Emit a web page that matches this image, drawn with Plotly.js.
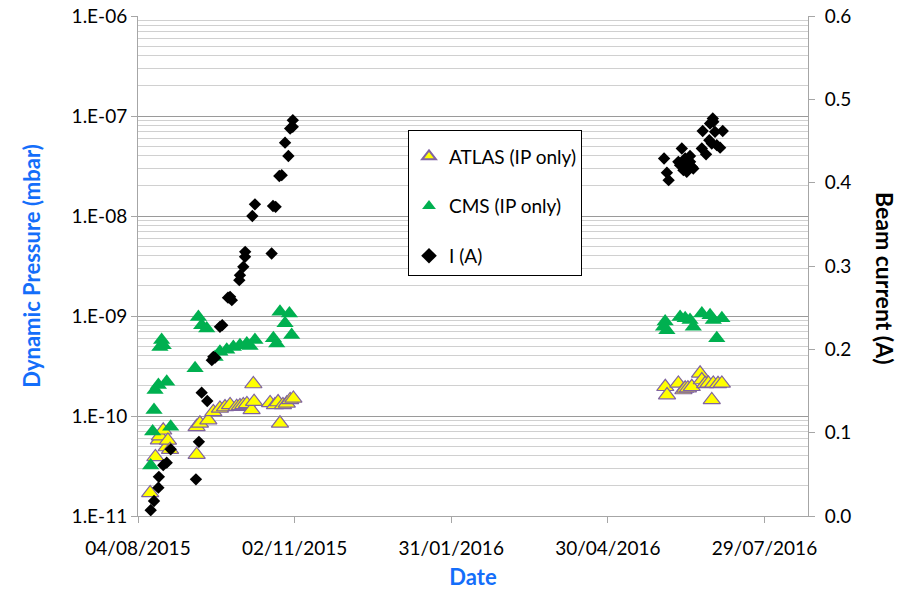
<!DOCTYPE html>
<html>
<head>
<meta charset="utf-8">
<script src="https://cdn.plot.ly/plotly-3.0.1.min.js"></script>
<style>
  html, body { margin: 0; padding: 0; background: #ffffff; }
  #chart { width: 902px; height: 590px; }
</style>
</head>
<body>
<div id="chart"></div>
<script>
// ---- Data ----
var atlasDates = [
  '2015-08-11 00:00', '2015-08-14 00:00', '2015-08-16 00:00', '2015-08-16 14:00', '2015-08-18 12:00',
  '2015-08-20 12:00', '2015-08-21 05:00', '2015-08-22 10:00',
  '2015-09-06 16:00', '2015-09-06 17:00', '2015-09-08 14:00', '2015-09-13 10:00', '2015-09-16 07:00',
  '2015-09-20 02:00', '2015-09-23 00:00', '2015-09-25 22:00', '2015-09-29 17:00', '2015-10-01 14:00',
  '2015-10-03 12:00', '2015-10-05 14:00', '2015-10-08 07:00', '2015-10-09 07:00', '2015-10-09 17:00',
  '2015-10-18 22:00', '2015-10-21 17:00', '2015-10-23 12:00', '2015-10-24 14:00', '2015-10-26 07:00',
  '2015-10-28 12:00', '2015-10-30 10:00', '2015-11-01 07:00',
  '2016-06-02 00:00', '2016-06-03 00:00', '2016-06-09 12:00', '2016-06-12 10:00', '2016-06-13 10:00',
  '2016-06-15 00:00', '2016-06-17 05:00', '2016-06-22 00:00', '2016-06-23 00:00', '2016-06-24 22:00',
  '2016-06-26 19:00', '2016-06-28 17:00', '2016-06-29 14:00', '2016-07-02 07:00', '2016-07-04 12:00'
];
var atlasP = [
  1.7e-11, 3.9e-11, 5.75e-11, 6.3e-11, 7.2e-11,
  4.9e-11, 5.7e-11, 4.6e-11,
  7.8e-11, 4.1e-11, 8.45e-11, 9.1e-11, 1.1e-10,
  1.19e-10, 1.23e-10, 1.29e-10, 1.24e-10, 1.26e-10,
  1.29e-10, 1.32e-10, 1.15e-10, 2.09e-10, 1.39e-10,
  1.35e-10, 1.29e-10, 1.38e-10, 8.45e-11, 1.29e-10,
  1.34e-10, 1.45e-10, 1.5e-10,
  1.96e-10, 1.62e-10, 2.12e-10, 1.82e-10, 1.89e-10,
  1.9e-10, 1.96e-10, 2.67e-10, 2.29e-10, 2.1e-10,
  2.12e-10, 1.45e-10, 2.12e-10, 2.1e-10, 2.12e-10
];

var cmsDates = [
  '2015-08-11 07:00', '2015-08-12 10:00', '2015-08-13 05:00', '2015-08-13 19:00', '2015-08-15 17:00',
  '2015-08-16 14:00', '2015-08-17 14:00', '2015-08-18 12:00', '2015-08-20 12:00', '2015-08-22 19:00',
  '2015-09-05 19:00', '2015-09-07 17:00', '2015-09-09 14:00', '2015-09-12 12:00', '2015-09-17 07:00',
  '2015-09-20 02:00', '2015-09-24 00:00', '2015-09-27 19:00', '2015-10-01 14:00', '2015-10-05 12:00',
  '2015-10-07 10:00', '2015-10-10 05:00', '2015-10-20 19:00', '2015-10-22 17:00', '2015-10-24 14:00',
  '2015-10-27 12:00', '2015-10-30 00:00', '2015-10-31 07:00',
  '2016-06-01 00:00', '2016-06-01 22:00', '2016-06-02 22:00', '2016-06-10 12:00', '2016-06-13 10:00',
  '2016-06-16 05:00', '2016-06-18 02:00', '2016-06-23 00:00', '2016-06-27 17:00', '2016-06-29 14:00',
  '2016-07-01 14:00', '2016-07-04 12:00'
];
var cmsP = [
  3.2e-11, 7.0e-11, 1.15e-10, 1.82e-10, 2.04e-10,
  4.9e-10, 5.75e-10, 5.1e-10, 2.2e-10, 7.8e-11,
  3.0e-10, 9.8e-10, 8.1e-10, 7.5e-10, 3.9e-10,
  4.4e-10, 4.6e-10, 4.9e-10, 5.1e-10, 5.3e-10,
  5.0e-10, 5.75e-10, 6.0e-10, 5.3e-10, 1.1e-9,
  8.45e-10, 1.06e-9, 6.45e-10,
  7.8e-10, 8.8e-10, 7.2e-10, 9.8e-10, 9.5e-10,
  9.1e-10, 7.8e-10, 1.06e-9, 1.02e-9, 9.1e-10,
  6.0e-10, 9.5e-10
];

var currentDates = [
  '2015-08-11 07:00', '2015-08-13 05:00', '2015-08-15 17:00', '2015-08-16 00:00', '2015-08-18 12:00',
  '2015-08-20 12:00', '2015-08-22 19:00', '2015-09-06 07:00', '2015-09-08 00:00', '2015-09-09 14:00',
  '2015-09-12 19:00', '2015-09-15 10:00', '2015-09-16 07:00', '2015-09-17 07:00', '2015-09-20 02:00',
  '2015-09-21 10:00', '2015-09-24 17:00', '2015-09-25 22:00', '2015-09-26 22:00', '2015-10-01 05:00',
  '2015-10-01 14:00', '2015-10-03 12:00', '2015-10-04 12:00', '2015-10-04 14:00', '2015-10-08 17:00',
  '2015-10-10 05:00', '2015-10-19 19:00', '2015-10-20 14:00', '2015-10-22 02:00', '2015-10-24 05:00',
  '2015-10-25 14:00', '2015-10-27 12:00', '2015-10-29 10:00', '2015-10-30 10:00', '2015-10-31 22:00',
  '2015-10-31 23:00',
  '2016-06-01 07:00', '2016-06-02 22:00', '2016-06-03 22:00', '2016-06-09 12:00', '2016-06-10 12:00',
  '2016-06-11 12:00', '2016-06-12 10:00', '2016-06-13 10:00', '2016-06-14 07:00', '2016-06-14 08:00',
  '2016-06-16 05:00', '2016-06-16 06:00', '2016-06-17 05:00', '2016-06-18 02:00', '2016-06-23 00:00',
  '2016-06-23 12:00', '2016-06-25 10:00', '2016-06-27 07:00', '2016-06-27 17:00', '2016-06-28 17:00',
  '2016-06-29 07:00', '2016-06-29 14:00', '2016-06-30 14:00', '2016-07-01 14:00', '2016-07-03 12:00',
  '2016-07-05 00:00'
];
var currentA = [
  0.007, 0.018, 0.034, 0.047, 0.061,
  0.064, 0.080, 0.044, 0.089, 0.148,
  0.138, 0.187, 0.191, 0.190, 0.227,
  0.229, 0.262, 0.263, 0.259, 0.283,
  0.289, 0.299, 0.311, 0.317, 0.360,
  0.374, 0.315, 0.372, 0.371, 0.408,
  0.409, 0.448, 0.432, 0.465, 0.467,
  0.475,
  0.429, 0.412, 0.403, 0.425, 0.421,
  0.441, 0.415, 0.429, 0.423, 0.413,
  0.432, 0.425, 0.419, 0.417, 0.441,
  0.462, 0.434, 0.451, 0.471, 0.447,
  0.477, 0.473, 0.461, 0.445, 0.442,
  0.462
];

var xTickVals = ['2015-08-04', '2015-11-02', '2016-01-31', '2016-04-30', '2016-07-29'];
var xTickText = ['04/08/2015', '02/11/2015', '31/01/2016', '30/04/2016', '29/07/2016'];
var yTickVals = [1e-11, 1e-10, 1e-9, 1e-8, 1e-7, 1e-6];
var yTickText = ['1.E-11', '1.E-10', '1.E-09', '1.E-08', '1.E-07', '1.E-06'];
var y2TickVals = [0, 0.1, 0.2, 0.3, 0.4, 0.5, 0.6];
var y2TickText = ['0.0', '0.1', '0.2', '0.3', '0.4', '0.5', '0.6'];

// minor log gridlines (2..9 within each decade)
var yMinorVals = [];
for (var dec = -11; dec < -6; dec++) {
  for (var k = 2; k <= 9; k++) yMinorVals.push(k * Math.pow(10, dec));
}

// ---- Styling ----
var FONT = 'Lato, "Open Sans", "Liberation Sans", sans-serif';
var BLUE = 'rgb(20,110,250)';
var AXIS_GRAY = '#a6a6a6';

var traces = [
  {
    x: atlasDates, y: atlasP, name: 'ATLAS (IP only)', type: 'scatter', mode: 'markers',
    legendgroup: 'a',
    marker: { symbol: 'triangle-up', size: 15, color: '#ffff00', line: { color: '#8064a2', width: 1.2 } },
    xaxis: 'x', yaxis: 'y'
  },
  {
    x: cmsDates, y: cmsP, name: 'CMS (IP only)', type: 'scatter', mode: 'markers',
    legendgroup: 'b',
    marker: { symbol: 'triangle-up', size: 15, color: '#00b050', line: { color: '#00b050', width: 0 } },
    xaxis: 'x', yaxis: 'y'
  },
  {
    x: currentDates, y: currentA, name: 'I (A)', type: 'scatter', mode: 'markers',
    legendgroup: 'c',
    marker: { symbol: 'diamond', size: 9.5, color: '#000000' },
    xaxis: 'x', yaxis: 'y2'
  }
];

var layout = {
  width: 902, height: 590,
  margin: { l: 138, r: 94, t: 16, b: 74, pad: 0 },
  paper_bgcolor: '#ffffff', plot_bgcolor: '#ffffff',
  font: { family: FONT, size: 19, color: '#000000' },
  showlegend: true,
  legend: {
    x: 0.403, y: 0.772, xanchor: 'left', yanchor: 'top',
    bgcolor: '#ffffff', bordercolor: '#000000', borderwidth: 1,
    font: { family: FONT, size: 19, color: '#000000' },
    title: { text: ' ', font: { size: 5 } },
    traceorder: 'grouped', tracegroupgap: 22, itemsizing: 'constant', itemwidth: 30
  },
  xaxis: {
    type: 'date',
    range: ['2015-08-04', '2016-08-23'],
    tickmode: 'array', tickvals: xTickVals, ticktext: xTickText,
    ticks: 'outside', ticklen: 6, tickcolor: AXIS_GRAY, tickwidth: 1,
    ticklabelstandoff: 9,
    showline: true, linecolor: AXIS_GRAY, linewidth: 1,
    showgrid: false, zeroline: false,
    tickfont: { family: FONT, size: 19, color: '#000000' },
    automargin: false,
    title: { text: 'Date', font: { family: FONT, size: 22, color: BLUE, weight: 'bold' }, standoff: 24 }
  },
  yaxis: {
    type: 'log',
    range: [-11, -6],
    tickmode: 'array', tickvals: yTickVals, ticktext: yTickText,
    ticks: 'outside', ticklen: 6, tickcolor: AXIS_GRAY, tickwidth: 1,
    showline: true, linecolor: AXIS_GRAY, linewidth: 1,
    showgrid: true, gridcolor: '#9a9a9a', gridwidth: 1,
    minor: { tickmode: 'array', tickvals: yMinorVals, showgrid: true, gridcolor: '#d0d0d0', gridwidth: 1, ticks: '' },
    zeroline: false,
    tickfont: { family: FONT, size: 19, color: '#000000' },
    automargin: false,
    title: { text: 'Dynamic Pressure (mbar)', font: { family: FONT, size: 22, color: BLUE, weight: 'bold' }, standoff: 24 }
  },
  yaxis2: {
    overlaying: 'y', side: 'right', anchor: 'x',
    range: [0, 0.6],
    tickmode: 'array', tickvals: y2TickVals, ticktext: y2TickText,
    ticks: 'outside', ticklen: 6, tickcolor: AXIS_GRAY, tickwidth: 1,
    ticklabelstandoff: 6,
    showline: true, linecolor: AXIS_GRAY, linewidth: 1,
    showgrid: false, zeroline: false,
    tickfont: { family: FONT, size: 19, color: '#000000' },
    automargin: false
  },
  annotations: [
    {
      text: '<b>Beam current (A)</b>', xref: 'paper', yref: 'paper',
      x: 1.115, y: 0.476, xanchor: 'center', yanchor: 'middle',
      textangle: 90, showarrow: false,
      font: { family: FONT, size: 23, color: '#000000' }
    }
  ]
};

Plotly.newPlot('chart', traces, layout, { displayModeBar: false, staticPlot: true });
</script>
</body>
</html>
